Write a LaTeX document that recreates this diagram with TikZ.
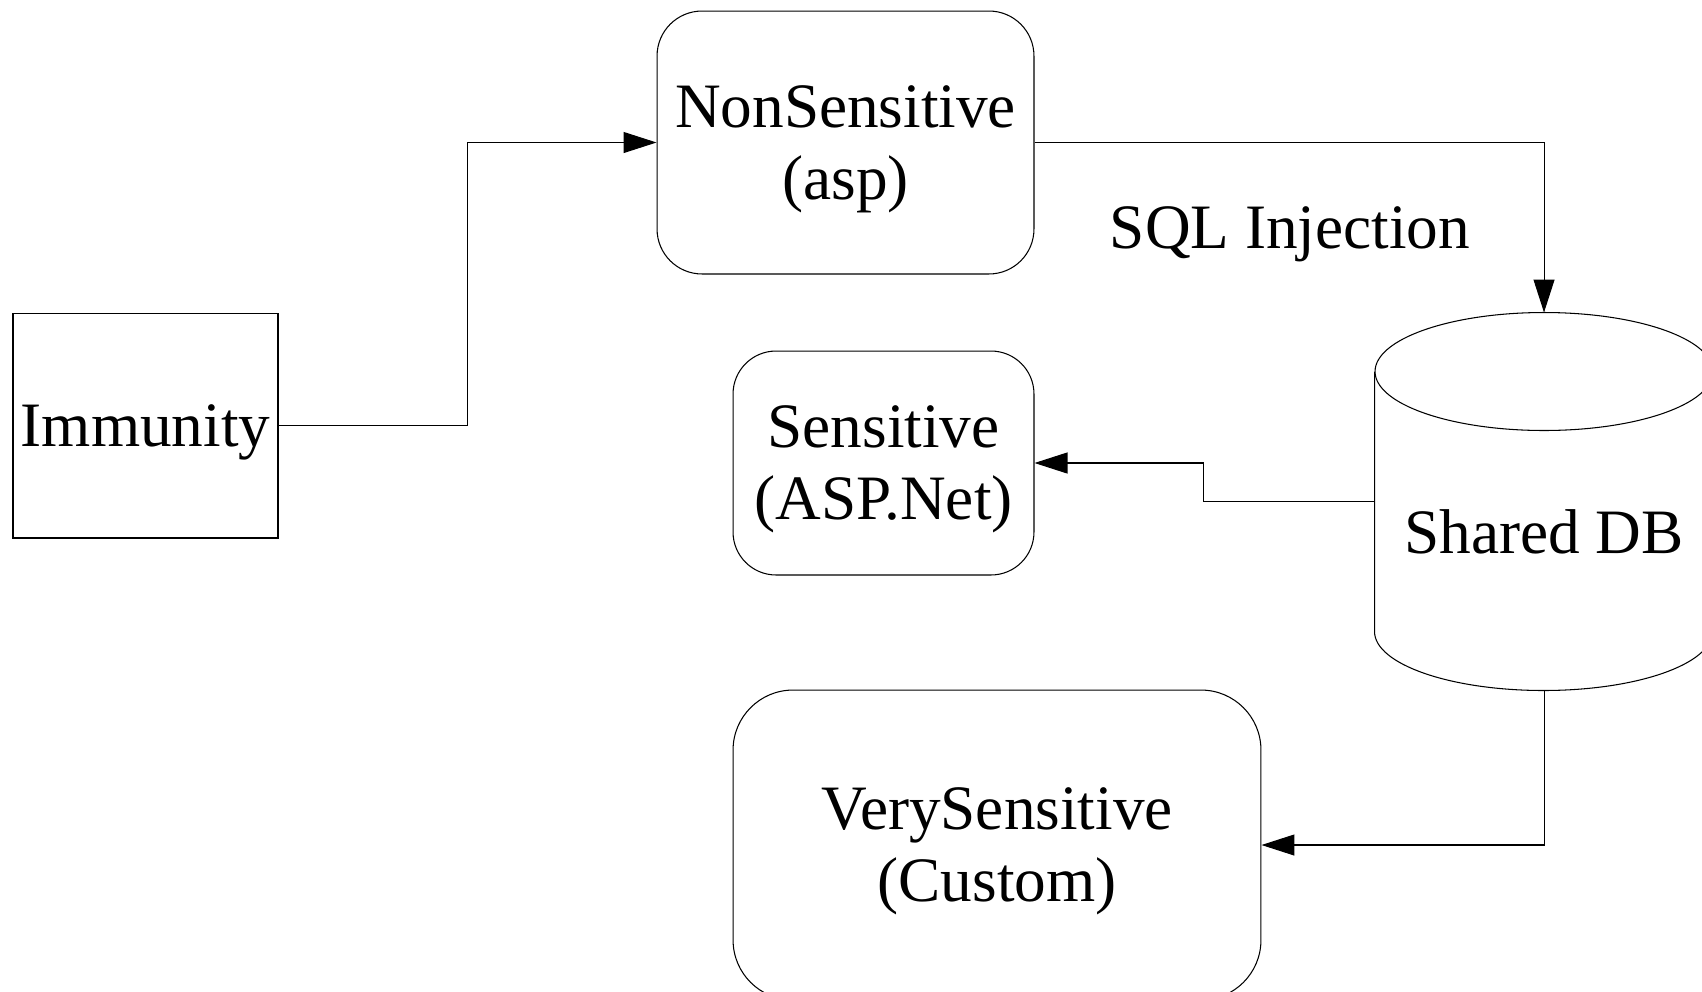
\documentclass[tikz,border=0pt]{standalone}
\usepackage{fontspec}
\setmainfont{Liberation Serif}
\usetikzlibrary{arrows.meta}

\begin{document}
\begin{tikzpicture}[x=0.02cm, y=-0.02cm, line width=0.6pt,
  every node/.style={font=\fontsize{36}{41}\selectfont, align=center, inner sep=0pt, text depth=0pt},
  box/.style={draw, rectangle},
  roundbox/.style={draw, rectangle, rounded corners=0.9cm},
  link/.style={-{Triangle[length=0.66cm, width=0.42cm]}}]

\useasboundingbox[fill=white] (0,0) rectangle (1702,991);

% Access levels sharing one database

\node[box, minimum width=5.3cm, minimum height=4.5cm] (imm) at (145.5,425.5) {Immunity};
\node[roundbox, minimum width=7.54cm, minimum height=5.26cm] (nonsens) at (845.5,142.5) {NonSensitive\\(asp)};
\node[roundbox, rounded corners=0.86cm, minimum width=6.02cm, minimum height=4.48cm] (sens) at (883.5,463) {Sensitive\\(ASP.Net)};
\node[roundbox, rounded corners=1.2cm, minimum width=10.56cm, minimum height=6.2cm] (verysens) at (997,845) {VerySensitive\\(Custom)};
\node[minimum width=6.76cm, minimum height=7.54cm] (db) at (1544,501.5) {};
\node (dblabel) at (1544,532) {Shared DB};
\node (sql) at (1290,228) {SQL Injection};

\draw ([yshift=-1.18cm]db.north) ellipse [x radius=3.38cm, y radius=1.18cm];
\draw ([yshift=-1.18cm]db.north west) -- ([yshift=1.18cm]db.south west)
  arc[start angle=180, end angle=360, x radius=3.38cm, y radius=1.18cm]
  -- ([yshift=-1.18cm]db.north east);

\draw[link] (imm.east) -- ++(189,0) |- (nonsens.west);
\draw[link] (nonsens.east) -| (db.north);
\draw[link] (db.west) -- ++(-171,0) |- (sens.east);
\draw[link] (db.south) |- (verysens.east);

\end{tikzpicture}
\end{document}
